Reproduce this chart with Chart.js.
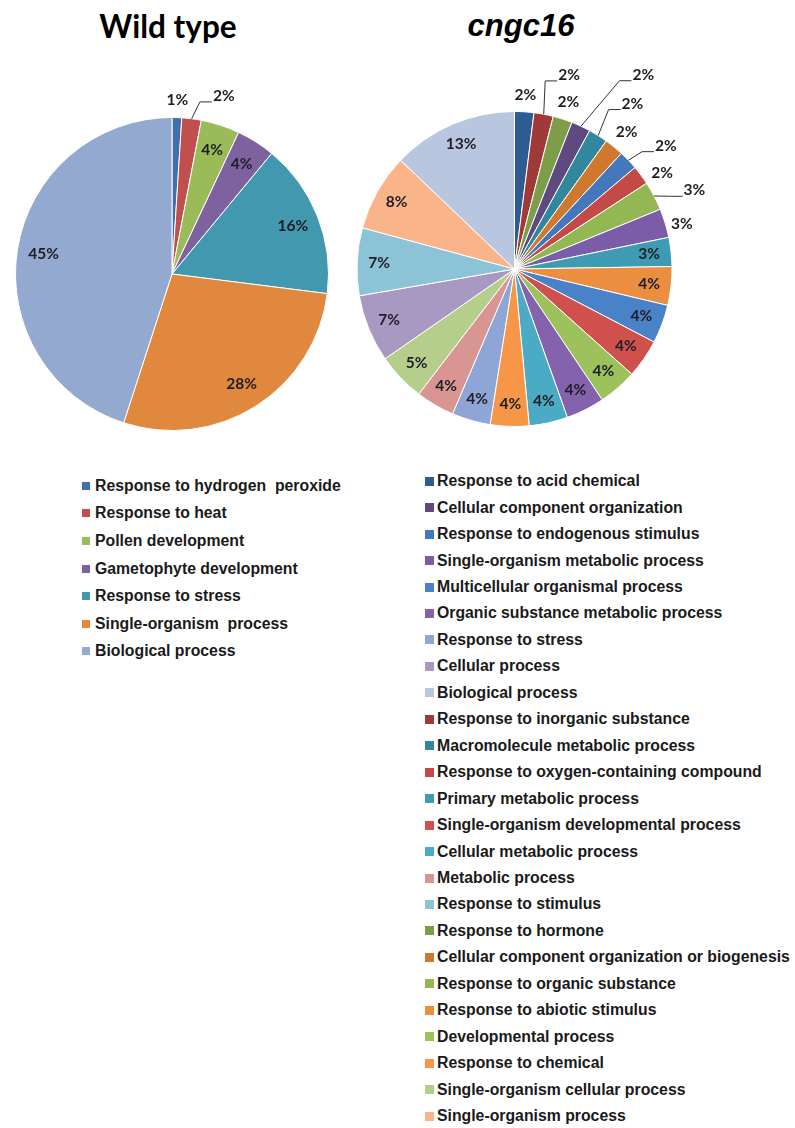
<!DOCTYPE html>
<html>
<head>
<meta charset="utf-8">
<title>GO terms: Wild type vs cngc16</title>
<script src="https://cdn.jsdelivr.net/npm/chart.js@4.4.1/dist/chart.umd.min.js"></script>
<style>
  body { margin: 0; width: 795px; height: 1128px; background: #fff; position: relative; overflow: hidden; }
  .title { position: absolute; top: 8px; font-weight: bold; color: #000; text-align: center; line-height: 36px; }
  #wtTitle { left: 0; width: 336px; font-family: Lato, sans-serif; font-size: 31.5px; }
  #mutTitle { left: 421px; width: 200px; font-family: "Liberation Sans", Arial, sans-serif; font-style: italic; font-size: 31px; }
  .pie { position: absolute; top: 50px; }
  #wtPie { left: 0; }
  #mutPie { left: 345px; }
  .legend { position: absolute; font-family: "Liberation Sans", Arial, sans-serif; font-weight: bold; font-size: 15.8px; color: #1a1a1a; }
  .legend .row { display: flex; align-items: center; white-space: nowrap; }
  .legend .box { width: 8px; height: 8px; margin-right: 5px; flex: none; }
  #wtLegend { left: 82px; top: 472px; }
  #wtLegend .row { height: 27.6px; }
  #mutLegend { left: 425px; top: 468px; }
  #mutLegend .row { height: 26.46px; }
  #mutLegend .box { width: 9px; height: 9px; margin-right: 3px; }
</style>
</head>
<body>
<div class="title" id="wtTitle">Wild type</div>
<div class="title" id="mutTitle">cngc16</div>
<canvas class="pie" id="wtPie" width="345" height="400"></canvas>
<canvas class="pie" id="mutPie" width="450" height="400"></canvas>
<div class="legend" id="wtLegend"></div>
<div class="legend" id="mutLegend"></div>

<script>
// Wild type GO categories (percent of genes)
const wtLabels = [
  "Response to hydrogen  peroxide",
  "Response to heat",
  "Pollen development",
  "Gametophyte development",
  "Response to stress",
  "Single-organism  process",
  "Biological process",
];
const wtValues = [1, 2, 4, 4, 16, 28, 45];
const wtColors = ["#3f6fae", "#c0504d", "#9bbb59", "#7e62a0", "#4198af", "#e0883e", "#93a9cf"];

// cngc16 GO categories, in slice order (clockwise from 12 o'clock)
const mutLabels = [
  "Response to acid chemical",
  "Response to inorganic substance",
  "Response to hormone",
  "Cellular component organization",
  "Macromolecule metabolic process",
  "Cellular component organization or biogenesis",
  "Response to endogenous stimulus",
  "Response to oxygen-containing compound",
  "Response to organic substance",
  "Single-organism metabolic process",
  "Primary metabolic process",
  "Response to abiotic stimulus",
  "Multicellular organismal process",
  "Single-organism developmental process",
  "Developmental process",
  "Organic substance metabolic process",
  "Cellular metabolic process",
  "Response to chemical",
  "Response to stress",
  "Metabolic process",
  "Single-organism cellular process",
  "Cellular process",
  "Response to stimulus",
  "Single-organism process",
  "Biological process",
];
const mutValues = [2, 2, 2, 2, 2, 2, 2, 2, 3, 3, 3, 4, 4, 4, 4, 4, 4, 4, 4, 4, 5, 7, 7, 8, 13];
const mutColors = [
  "#2f5b93", "#a03a38", "#7e9d49", "#5f4a80", "#31889e", "#d0782e",
  "#4478bd", "#c44a47", "#93b853", "#7b5ca8", "#3f9bb4", "#eb8e3f",
  "#4a82c8", "#d0504e", "#9dc25c", "#8462ac", "#4babc4", "#f79646",
  "#8ea5d5", "#d89592", "#b5ce8c", "#a899c3", "#8dc3d6", "#f9b48a",
  "#b9c6e0",
];

// label placement: null = inside the slice, [radius factor, angle shift (deg), leader line]
const wtPlace = [[1.11, 0, false], [1.185, 9, true], null, null, null, null, null];
const mutPlace = [
  [1.11, 0, false], [1.28, 5, true], [1.115, 0, false], [1.48, 8.6, true], [1.29, 3.4, true],
  [1.125, 0, false], [1.24, 4.5, true], [1.117, 3.5, false], [1.247, 4, true], [1.10, 1.8, false],
];

// draws "n%" on each slice, outside ones with an elbow leader line
const pctLabels = {
  id: "pctLabels",
  afterDatasetsDraw(chart, args, opts) {
    const { ctx } = chart;
    const values = chart.data.datasets[0].data;
    ctx.save();
    ctx.font = "bold 15.5px Lato, sans-serif";
    ctx.fillStyle = "#1e1e24";
    ctx.strokeStyle = "#333";
    ctx.lineWidth = 1;
    ctx.textAlign = "center";
    ctx.textBaseline = "middle";
    chart.getDatasetMeta(0).data.forEach((arc, i) => {
      const { x, y, startAngle, endAngle, outerRadius } = arc.getProps(
        ["x", "y", "startAngle", "endAngle", "outerRadius"], true);
      const mid = (startAngle + endAngle) / 2;
      const text = values[i] + "%";
      const place = opts.place[i];
      if (!place) {
        const r = outerRadius * opts.inside;
        ctx.fillText(text, x + Math.cos(mid) * r, y + Math.sin(mid) * r);
        return;
      }
      const [k, shift, leader] = place;
      const a = mid + (shift * Math.PI) / 180;
      const lx = x + Math.cos(a) * outerRadius * k;
      const ly = y + Math.sin(a) * outerRadius * k;
      ctx.fillText(text, lx, ly);
      if (leader) {
        const left = lx - ctx.measureText(text).width / 2 - 1;
        ctx.beginPath();
        ctx.moveTo(x + Math.cos(mid) * outerRadius, y + Math.sin(mid) * outerRadius);
        ctx.lineTo(left - 12, ly + 6);
        ctx.lineTo(left, ly + 6);
        ctx.stroke();
      }
    });
    ctx.restore();
  },
};

function makePie(id, labels, values, colors, padding, place, inside) {
  return new Chart(document.getElementById(id), {
    type: "pie",
    data: {
      labels: labels,
      datasets: [{ data: values, backgroundColor: colors, borderColor: "#ffffff", borderWidth: 1 }],
    },
    options: {
      responsive: false,
      animation: false,
      layout: { padding: padding },
      plugins: {
        legend: { display: false },
        tooltip: { enabled: false },
        pctLabels: { place: place, inside: inside },
      },
    },
    plugins: [pctLabels],
  });
}

const wtChart = makePie("wtPie", wtLabels, wtValues, wtColors,
  { left: 15, top: 67, right: 16, bottom: 19 }, wtPlace, 0.83);
const mutChart = makePie("mutPie", mutLabels, mutValues, mutColors,
  { left: 11.5, top: 61, right: 122.5, bottom: 23 }, mutPlace, 0.86);

// single-column legend; the cngc16 one reads a 3-column legend column by column
function buildLegend(el, labels, colors, order) {
  order.forEach((i) => {
    const row = document.createElement("div");
    row.className = "row";
    const box = document.createElement("span");
    box.className = "box";
    box.style.background = colors[i];
    const txt = document.createElement("span");
    txt.textContent = labels[i].replace(/  /g, "\u00a0 ");
    row.appendChild(box);
    row.appendChild(txt);
    el.appendChild(row);
  });
}

buildLegend(document.getElementById("wtLegend"), wtLabels, wtColors, wtLabels.map((_, i) => i));

const mutOrder = [];
for (let c = 0; c < 3; c++) {
  for (let i = c; i < mutLabels.length; i += 3) mutOrder.push(i);
}
buildLegend(document.getElementById("mutLegend"), mutLabels, mutColors, mutOrder);
</script>
</body>
</html>
